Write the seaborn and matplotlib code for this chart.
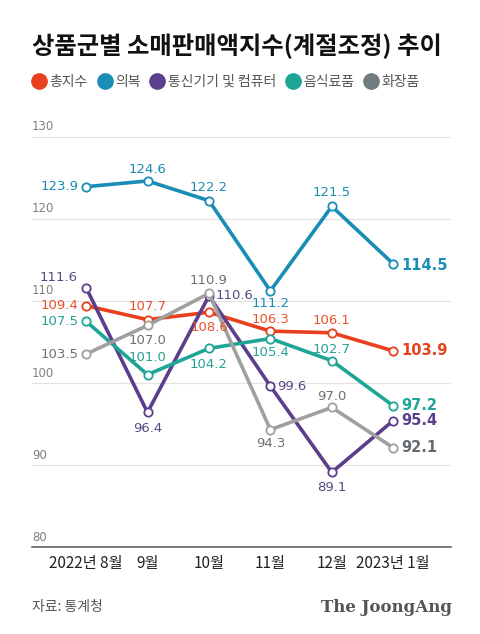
import matplotlib
matplotlib.use("Agg")
import matplotlib.pyplot as plt
from matplotlib.lines import Line2D
import seaborn as sns
import pandas as pd

months = ["2022년 8월", "9월", "10월", "11월", "12월", "2023년 1월"]
series_names = ["총지수", "의복", "통신기기 및 컴퓨터", "음식료품", "화장품"]
total = [109.4, 107.7, 108.6, 106.3, 106.1, 103.9]
clothing = [123.9, 124.6, 122.2, 111.2, 121.5, 114.5]
telecom = [111.6, 96.4, 110.6, 99.6, 89.1, 95.4]
food = [107.5, 101.0, 104.2, 105.4, 102.7, 97.2]
cosmetics = [103.5, 107.0, 110.9, 94.3, 97.0, 92.1]
y_ticks = [80, 90, 100, 110, 120, 130]

values = [total, clothing, telecom, food, cosmetics]
line_colors = ["#e8401c", "#1a8db5", "#5b3f8c", "#1fa596", "#a0a0a0"]
label_colors = ["#e8532c", "#1a8bb0", "#5a4a85", "#26a293", "#707070"]
legend_colors = ["#e8401c", "#1a8db5", "#5b3f8c", "#1fa596", "#6f7b7f"]
last_colors = ["#e8401c", "#1a8db5", "#5b3f8c", "#1fa596", "#636b6e"]

# label placement: (dx px, dy px, ha)  dy positive = up
offsets = [
    [(-8, 0, "right"), (0, 13, "center"), (0, -15, "center"), (0, 12, "center"), (0, 12, "center"), (8, 0, "left")],
    [(-8, 0, "right"), (0, 11, "center"), (0, 13, "center"), (0, -13, "center"), (0, 14, "center"), (8, -2, "left")],
    [(-9, 10, "right"), (0, -16, "center"), (7, 0, "left"), (7, 0, "left"), (0, -15, "center"), (8, 0, "left")],
    [(-8, 0, "right"), (0, 17, "center"), (0, -16, "center"), (0, -14, "center"), (0, 11, "center"), (8, 0, "left")],
    [(-8, 0, "right"), (0, -15, "center"), (0, 13, "center"), (0, -14, "center"), (0, 11, "center"), (8, 0, "left")],
]

sns.set_theme(style="white")
plt.rcParams["font.family"] = ["Noto Sans CJK KR", "DejaVu Sans"]

rows = []
for name, vals in zip(series_names, values):
    for i, v in enumerate(vals):
        rows.append({"idx": i, "value": v, "series": name})
df = pd.DataFrame(rows)

fig = plt.figure(figsize=(4.8, 6.34), dpi=100)
ax = fig.add_axes([32 / 480, (634 - 547) / 634, (451 - 32) / 480, (547 - 112) / 634])

sns.lineplot(data=df, x="idx", y="value", hue="series", hue_order=series_names,
             palette=dict(zip(series_names, line_colors)), linewidth=2.6,
             marker="o", markersize=6, markerfacecolor="white", markeredgewidth=1.3,
             legend=False, ax=ax, sort=False)
for ln, c in zip(ax.lines, line_colors):
    ln.set_markeredgecolor(c)

ax.set_xlim(-0.88, 5.94)
ax.set_ylim(80, 133)
ax.set_yticks(y_ticks)
ax.set_yticklabels([])
ax.tick_params(axis="y", length=0)
ax.grid(axis="y", color="#e2e2e2", linewidth=0.9)
ax.set_axisbelow(True)
for s in ["top", "right", "left"]:
    ax.spines[s].set_visible(False)
ax.spines["bottom"].set_color("#555555")
ax.spines["bottom"].set_linewidth(1.1)
ax.set_xticks(range(len(months)))
ax.set_xticklabels(months, fontsize=11, color="#222222")
ax.tick_params(axis="x", direction="in", length=6, color="#555555", width=0.9, pad=6)
ax.set_xlabel("")
ax.set_ylabel("")

for t in y_ticks:
    ax.text(0, t + 0.4, str(t), transform=ax.get_yaxis_transform(), ha="left", va="bottom",
            fontsize=8.5, color="#808080", family="DejaVu Sans")

px = 0.72
for si, vals in enumerate(values):
    for i, v in enumerate(vals):
        dx, dy, ha = offsets[si][i]
        last = i == len(vals) - 1
        ax.annotate(f"{v:.1f}", (i, v), xytext=(dx * px, dy * px), textcoords="offset points",
                    ha=ha, va="center",
                    fontsize=10.5 if last else 9.5,
                    fontweight="bold" if last else "normal",
                    color=last_colors[si] if last else label_colors[si],
                    family="DejaVu Sans")

fig.text(32 / 480, 1 - 46 / 634, "상품군별 소매판매액지수(계절조정) 추이", fontsize=17.5,
         fontweight="bold", color="#111111", ha="left", va="center")

handles = [Line2D([], [], marker="o", ls="", color=c, markersize=11) for c in legend_colors]
fig.legend(handles, series_names, loc="center left", bbox_to_anchor=(33 / 480, 1 - 82 / 634),
           ncol=5, frameon=False, fontsize=10, handlelength=0.9, handletextpad=0.3,
           columnspacing=0.75, labelcolor="#555555", borderaxespad=0, borderpad=0)

fig.text(32 / 480, 1 - 607 / 634, "자료: 통계청", fontsize=10, color="#555555", ha="left", va="center")
fig.text(452 / 480, 1 - 607 / 634, "The JoongAng", fontsize=12, fontweight="bold",
         color="#555555", ha="right", va="center", family="DejaVu Serif")

fig.savefig("out.png", dpi=100)
